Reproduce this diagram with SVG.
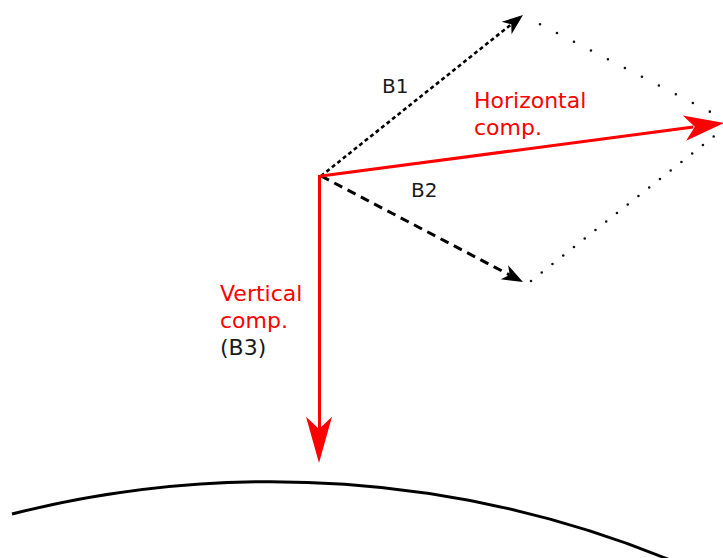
<svg xmlns="http://www.w3.org/2000/svg" width="723" height="558" viewBox="0 0 723 558">
<style>
text{font-family:"DejaVu Sans",Verdana,sans-serif;}
.red{fill:#ff0000;font-size:22px;}
.blk{fill:#1a1a1a;}
.rline{stroke:#ff0000;stroke-width:3;fill:none;}
.dash1{stroke:#000;stroke-width:2.6;fill:none;stroke-dasharray:4 3;}
.dash2{stroke:#000;stroke-width:3;fill:none;stroke-dasharray:9 6;}
.dot{stroke:#111;stroke-width:2.6;fill:none;stroke-linecap:round;}
</style>
<defs>
<path id="rhead" d="M0,0 L-42,-13 L-31,0 L-42,13 Z" fill="#ff0000"/>
<path id="bhead" d="M0,0 L-21,-8 L-15,0 L-21,8 Z" fill="#000"/>
</defs>
<g id="earth">
<path d="M12,514 A1056,1056 0 0 1 670,560" fill="none" stroke="#000" stroke-width="3"/>
</g>
<g id="connectors">
<path class="dot" d="M540,24.3 L727,120.5" stroke-dasharray="0 19.1"/>
<path class="dot" d="M531,281 L727,126" stroke-dasharray="0 13.7"/>
<path class="dash1" d="M321,176 L511.3,24.3"/>
<use href="#bhead" transform="translate(523,15) rotate(-38.56)"/>
<path class="dash2" d="M321,176 L509.7,275"/>
<use href="#bhead" transform="translate(523,282) rotate(27.69)"/>
<path class="rline" d="M321,176 L693.3,127"/>
<use href="#rhead" transform="translate(724,123) rotate(-7.49) scale(0.95,0.98)"/>
<path class="rline" d="M319.5,175 L319.5,432"/>
<use href="#rhead" transform="translate(319,463) rotate(90) scale(1.1,1)"/>
</g>
<g id="labels">
<text class="blk" x="382" y="93" font-size="20">B1</text>
<text class="blk" x="411" y="197" font-size="20">B2</text>
<text class="red" x="474" y="108">Horizontal</text>
<text class="red" x="474" y="135">comp.</text>
<text class="red" x="220" y="301">Vertical</text>
<text class="red" x="220" y="328">comp.</text>
<text class="blk" x="220" y="355" font-size="22">(B3)</text>
</g>
</svg>
